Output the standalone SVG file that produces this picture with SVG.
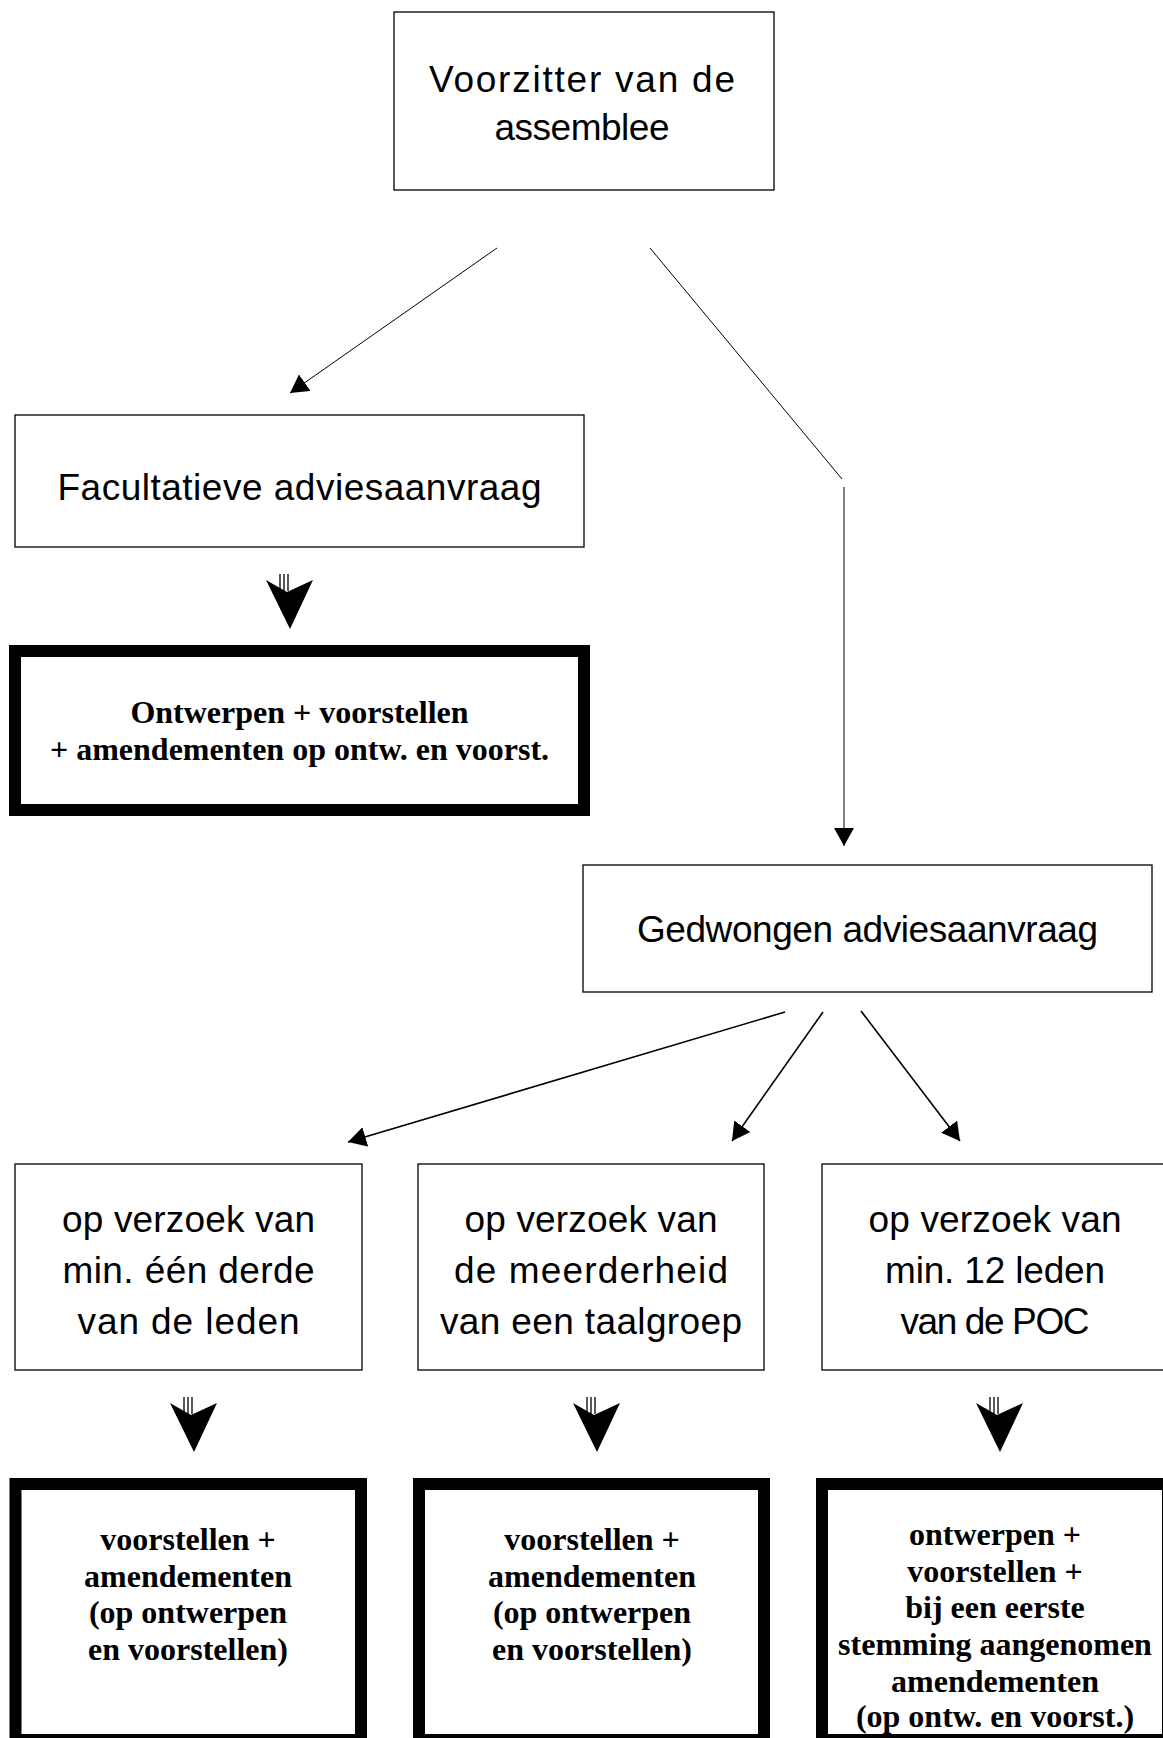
<svg xmlns="http://www.w3.org/2000/svg" width="1163" height="1738" viewBox="0 0 1163 1738">
<style>
.box{fill:#fff;stroke:#000;stroke-width:1.3}
.thick{fill:#fff;stroke:#000;stroke-width:12}
.sans{font-family:"Liberation Sans",Arial,sans-serif;font-size:37px;fill:#000;text-anchor:middle}
.serif{font-family:"Liberation Serif","Times New Roman",serif;font-size:32px;font-weight:bold;fill:#000;text-anchor:middle}
.conn{stroke:#000;stroke-width:1;fill:none}
.conn2{stroke:#000;stroke-width:1.6;fill:none}
.shaft{stroke:#000;stroke-width:1.3}
</style>
<defs>
<marker id="ah" markerUnits="userSpaceOnUse" markerWidth="18" markerHeight="20" refX="18" refY="10" orient="auto" viewBox="0 0 18 20">
<path d="M0,0 L18,10 L0,20 Z" fill="#000"/>
</marker>
<g id="dbl">
<line class="shaft" x1="-10" y1="-55" x2="-10" y2="-40"/>
<line class="shaft" x1="-6" y1="-55" x2="-6" y2="-38"/>
<line class="shaft" x1="-2" y1="-55" x2="-2" y2="-38"/>
<path d="M-24,-49 L-3,-37 L23,-49 L0,0 Z" fill="#000"/>
</g>
</defs>
<rect width="1163" height="1738" fill="#fff"/>

<g id="connectors">
<line class="conn" x1="497" y1="248" x2="290" y2="393" marker-end="url(#ah)"/>
<line class="conn" x1="650" y1="248" x2="842" y2="479"/>
<line class="conn" x1="844" y1="487" x2="844" y2="846" marker-end="url(#ah)"/>
<line class="conn2" x1="785" y1="1012" x2="348" y2="1142" marker-end="url(#ah)"/>
<line class="conn2" x1="823" y1="1012" x2="732" y2="1141" marker-end="url(#ah)"/>
<line class="conn2" x1="861" y1="1011" x2="960" y2="1141" marker-end="url(#ah)"/>
<use href="#dbl" x="290" y="629"/>
<use href="#dbl" x="194" y="1452"/>
<use href="#dbl" x="597" y="1452"/>
<use href="#dbl" x="1000" y="1452"/>
</g>

<g id="voorzitter">
<rect class="box" x="394" y="12" width="380" height="178"/>
<text class="sans" x="582" y="92" textLength="306">Voorzitter van de</text>
<text class="sans" x="582" y="140" textLength="175">assemblee</text>
</g>

<g id="facultatief">
<rect class="box" x="15" y="415" width="569" height="132"/>
<text class="sans" x="299.5" y="500" textLength="484">Facultatieve adviesaanvraag</text>
</g>

<g id="resultaat-facultatief">
<rect class="thick" x="15" y="651" width="569" height="159"/>
<text class="serif" x="299.5" y="723">Ontwerpen + voorstellen</text>
<text class="serif" x="299.5" y="760">+ amendementen op ontw. en voorst.</text>
</g>

<g id="gedwongen">
<rect class="box" x="583" y="865" width="569" height="127"/>
<text class="sans" x="867.5" y="942" textLength="461">Gedwongen adviesaanvraag</text>
</g>

<g id="derde">
<rect class="box" x="15" y="1164" width="347" height="206"/>
<text class="sans" x="188.5" y="1232" textLength="253">op verzoek van</text>
<text class="sans" x="188.5" y="1283" textLength="252">min. één derde</text>
<text class="sans" x="188.5" y="1334" textLength="222">van de leden</text>
</g>

<g id="taalgroep">
<rect class="box" x="418" y="1164" width="346" height="206"/>
<text class="sans" x="591" y="1232" textLength="253">op verzoek van</text>
<text class="sans" x="591" y="1283" textLength="274">de meerderheid</text>
<text class="sans" x="591" y="1334" textLength="302">van een taalgroep</text>
</g>

<g id="poc">
<rect class="box" x="822" y="1164" width="346" height="206"/>
<text class="sans" x="995" y="1232" textLength="253">op verzoek van</text>
<text class="sans" x="995" y="1283" textLength="220">min. 12 leden</text>
<text class="sans" x="995" y="1334" textLength="189">van de POC</text>
</g>

<g id="resultaat-derde">
<rect class="thick" x="15.5" y="1484" width="345.5" height="256"/>
<text class="serif" x="188" y="1550">voorstellen +</text>
<text class="serif" x="188" y="1587">amendementen</text>
<text class="serif" x="188" y="1623">(op ontwerpen</text>
<text class="serif" x="188" y="1660">en voorstellen)</text>
</g>

<g id="resultaat-taalgroep">
<rect class="thick" x="419" y="1484" width="345" height="256"/>
<text class="serif" x="592" y="1550">voorstellen +</text>
<text class="serif" x="592" y="1587">amendementen</text>
<text class="serif" x="592" y="1623">(op ontwerpen</text>
<text class="serif" x="592" y="1660">en voorstellen)</text>
</g>

<g id="resultaat-poc">
<rect class="thick" x="822" y="1484" width="346" height="256"/>
<text class="serif" x="995" y="1545">ontwerpen +</text>
<text class="serif" x="995" y="1582">voorstellen +</text>
<text class="serif" x="995" y="1618">bij een eerste</text>
<text class="serif" x="995" y="1655">stemming aangenomen</text>
<text class="serif" x="995" y="1692">amendementen</text>
<text class="serif" x="995" y="1727">(op ontw. en voorst.)</text>
</g>
</svg>
